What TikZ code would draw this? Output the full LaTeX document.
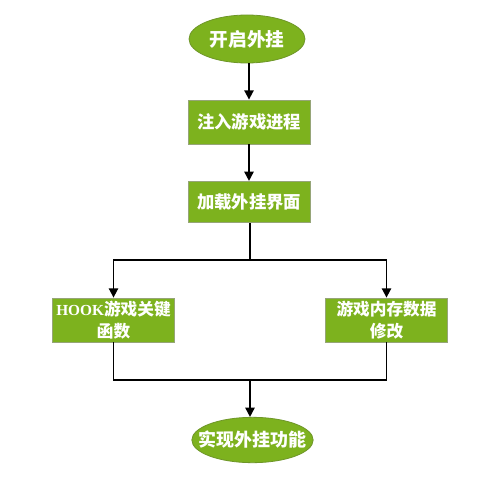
\documentclass[tikz,border=0pt]{standalone}
\usepackage{fontspec}
\newfontfamily\cjk{Noto Sans CJK SC}
\newfontfamily\latinser{Liberation Serif}
\usetikzlibrary{shapes.geometric,arrows.meta}
\definecolor{gfill}{RGB}{125,178,30}
\definecolor{gline}{RGB}{150,165,120}
\definecolor{oline}{RGB}{110,150,40}
\tikzset{
  x=0.75pt,y=-0.75pt,
  procbox/.style={rectangle,fill=gfill,draw=gline,line width=0.6pt,text=white,font=\cjk\bfseries\fontsize{13}{15}\selectfont,inner sep=0pt,align=center},
  termnode/.style={ellipse,fill=gfill,draw=oline,line width=0.6pt,inner sep=0pt},
  termtext/.style={text=white,font=\cjk\bfseries\fontsize{14}{16}\selectfont,inner sep=0pt},
  flow/.style={line width=1.3pt,-{Triangle[length=7pt,width=7pt]}},
  plain/.style={line width=1.3pt}
}
\begin{document}
\begin{tikzpicture}
\useasboundingbox[fill=white] (0,0) rectangle (490,492);
\node[termnode,minimum width=87pt,minimum height=36pt] (start) at (247,39) {};
\node[termtext] (starttext) at (start) {开启外挂};
\node[procbox,minimum width=91.5pt,minimum height=33pt] (inject) at (249,122) {注入游戏进程};
\node[procbox,minimum width=91.5pt,minimum height=31pt] (load) at (249,202) {加载外挂界面};
\node[procbox,minimum width=91.5pt,minimum height=33pt,font=\cjk\bfseries\fontsize{12.5}{16}\selectfont] (hook) at (113.5,320) {{\latinser\bfseries\fontsize{11.5}{16}\selectfont HOOK}游戏关键\\函数};
\node[procbox,minimum width=91pt,minimum height=33pt,font=\cjk\bfseries\fontsize{12.5}{16}\selectfont] (mem) at (386.5,320) {游戏内存数据\\修改};
\node[termnode,minimum width=91pt,minimum height=34pt] (finish) at (252.5,440) {};
\node[termtext,font=\cjk\bfseries\fontsize{13.5}{16}\selectfont] (finishtext) at (finish) {实现外挂功能};
\coordinate (split) at (250,260);
\coordinate (merge) at (250,380);
\draw[flow] (start.south -| inject.north) -- (inject.north);
\draw[flow] (inject) -- (load);
\draw[plain] (load.south -| split) -- (split);
\draw[flow] (split) -| (hook.north);
\draw[flow] (split) -| (mem.north);
\draw[plain] (hook.south) |- (merge);
\draw[plain] (mem.south) |- (merge);
\draw[flow] (merge) -- (merge |- finish.north);
\end{tikzpicture}
\end{document}
